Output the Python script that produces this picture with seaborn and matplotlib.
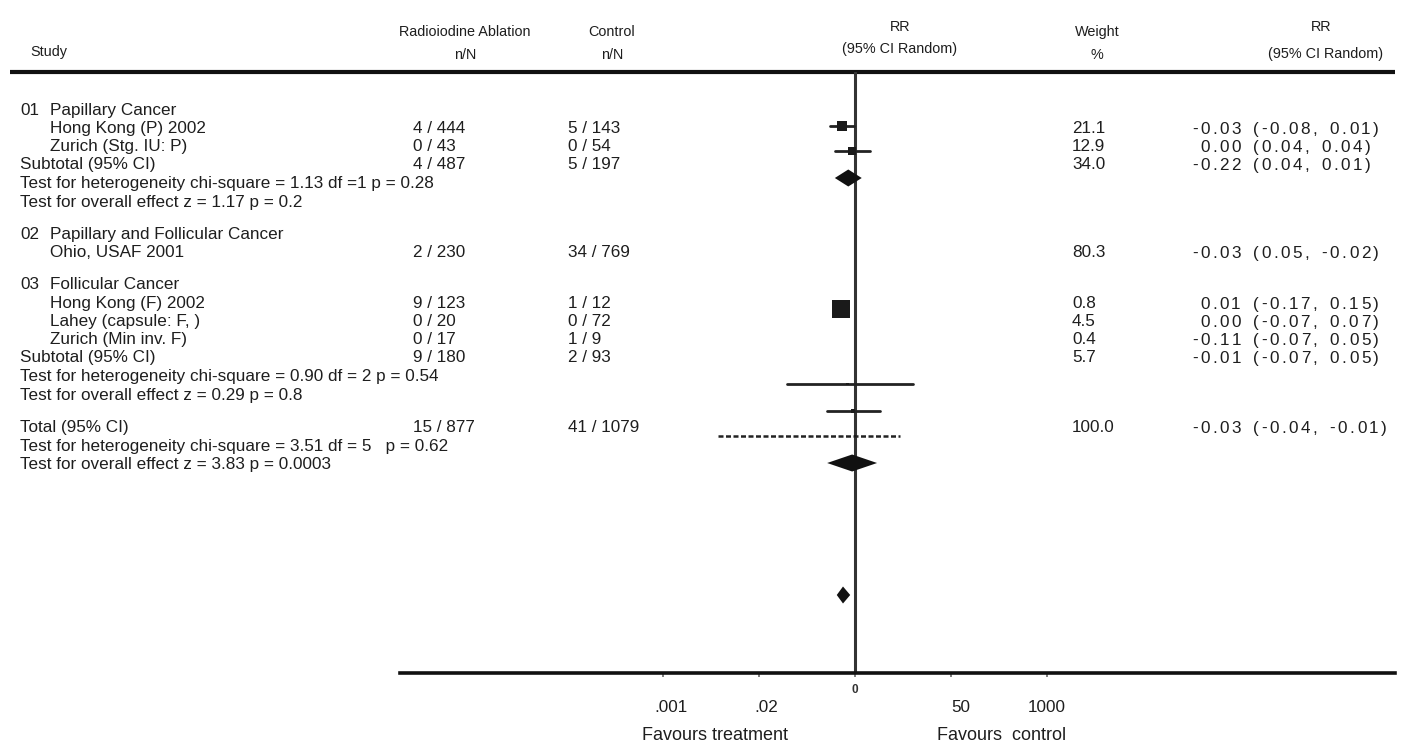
import matplotlib
matplotlib.use("Agg")
import matplotlib.pyplot as plt
import matplotlib.transforms as mtransforms
from matplotlib import font_manager
import seaborn as sns

sns.set_style("white")
plt.rcParams['font.family'] = ['Liberation Sans', 'DejaVu Sans']

# ---------------- data ----------------
header_cols = ["Study", "Radioiodine Ablation\nn/N", "Control\nn/N",
               "RR\n(95% CI Random)", "Weight\n%", "RR\n(95% CI Random)"]

group_titles = ["01   Papillary Cancer", "02   Papillary and Follicular Cancer", "03   Follicular Cancer"]

row_labels = ["Hong Kong (P) 2002", "Zurich (Stg. IU: P)", "Subtotal (95% CI)",
              "Ohio, USAF 2001",
              "Hong Kong (F) 2002", "Lahey (capsule: F, )", "Zurich (Min inv. F)", "Subtotal (95% CI)",
              "Total (95% CI)"]
treat_nN = ["4 / 444", "0 / 43", "4 / 487", "2 / 230", "9 / 123", "0 / 20", "0 / 17", "9 / 180", "15 / 877"]
control_nN = ["5 / 143", "0 / 54", "5 / 197", "34 / 769", "1 / 12", "0 / 72", "1 / 9", "2 / 93", "41 / 1079"]
weights_txt = ["21.1", "12.9", "34.0", "80.3", "0.8", "4.5", "0.4", "5.7", "100.0"]
rr_txt = ["-0.03 (-0.08, 0.01)", "0.00 (0.04, 0.04)", "-0.22 (0.04, 0.01)",
          "-0.03 (0.05, -0.02)",
          "0.01 (-0.17, 0.15)", "0.00 (-0.07, 0.07)", "-0.11 (-0.07, 0.05)", "-0.01 (-0.07, 0.05)",
          "-0.03 (-0.04, -0.01)"]
test_lines = ["Test for heterogeneity chi-square = 1.13 df =1 p = 0.28",
              "Test for overall effect z = 1.17 p = 0.2",
              "Test for heterogeneity chi-square = 0.90 df = 2 p = 0.54",
              "Test for overall effect z = 0.29 p = 0.8",
              "Test for heterogeneity chi-square = 3.51 df = 5   p = 0.62",
              "Test for overall effect z = 3.83 p = 0.0003"]

# forest plot marks (axis units: one unit per tick step)
study_est = [-0.135, -0.03, -0.146, -0.08, -0.02, 0.00]
study_lo = [-0.26, -0.21, -0.20, -0.71, -0.29, -1.43]
study_hi = [-0.01, 0.16, -0.09, 0.60, 0.26, 0.47]
study_weight = [21.1, 12.9, 80.3, 0.8, 4.5, 0.4]
pooled_est = [-0.07, -0.03, -0.125]
pooled_lo = [-0.21, -0.29, -0.19]
pooled_hi = [0.07, 0.23, -0.05]

tick_vals = [-2, -1, 0, 1, 2]
tick_labels = [".001", ".02", "0", "50", "1000"]
favours = ["Favours treatment", "Favours  control"]

# ---------------- fonts ----------------
names = {f.name for f in font_manager.fontManager.ttflist}
if "Liberation Sans Narrow" in names:
    hkw = dict(family=["Liberation Sans Narrow", "Liberation Sans"], fontsize=11.5)
else:
    hkw = dict(family=["Liberation Sans", "DejaVu Sans"], fontsize=10.4)

# ---------------- layout ----------------
W, H = 1403, 748
fig = plt.figure(figsize=(W / 100, H / 100), dpi=100)
ov = fig.add_axes([0, 0, 1, 1])
ov.set_xlim(0, W)
ov.set_ylim(H, 0)
ov.axis("off")

ink = "#1e1e1e"
fs = 12.3


def tracked(x, y, s, track_px, size, extra_space=5.0):
    """draw a string with extra letter spacing (chained annotations)"""
    prev = None
    pending = 0.0
    space_px = 0.278 * size * 100 / 72 + extra_space
    for ch in s:
        if ch == " ":
            pending += space_px
            continue
        if prev is None:
            prev = ov.text(x + pending, y, ch, fontsize=size, color=ink, ha="left", va="bottom")
        else:
            off = (track_px + pending) * 72 / 100
            prev = ov.annotate(ch, xy=(1, 0), xycoords=prev, xytext=(off, 0),
                               textcoords="offset points", fontsize=size, color=ink,
                               ha="left", va="bottom")
        pending = 0.0


# header
ov.text(30, 52, header_cols[0], color=ink, va="center", ha="left", **hkw)
hx = [None, 465, 612, 900, 1097, 1321]
for i in range(1, 6):
    top, bot = header_cols[i].split("\n")
    yt, yb = (27, 49) if "RR" in top else (32, 55)
    if i == 5:
        yb = 54
    ov.text(hx[i], yt, top, color=ink, ha="center", va="center", **hkw)
    ov.text(hx[i] + (5 if i == 5 else 0), yb, bot, color=ink, ha="center", va="center", **hkw)
ov.plot([10, 1395], [72, 72], color="#111111", lw=3, solid_capstyle="butt")

# body rows
row_y = [128, 146, 164, 252, 303, 321, 339, 357, 427]
group_y = [110, 234, 284]
test_y = [183, 202, 376, 395, 446, 464]
for t, y in zip(group_titles, group_y):
    num, name = t.split("   ")
    ov.text(20, y, num, fontsize=fs, color=ink, va="center")
    ov.text(50, y, name, fontsize=fs, color=ink, va="center")
for i, y in enumerate(row_y):
    lab = row_labels[i]
    lx = 20 if lab.startswith(("Subtotal", "Total")) else 50
    ov.text(lx, y, lab, fontsize=fs, color=ink, va="center")
    ov.text(413, y, treat_nN[i], fontsize=fs, color=ink, va="center")
    ov.text(568, y, control_nN[i], fontsize=fs, color=ink, va="center")
    ov.text(1072, y, weights_txt[i], fontsize=fs, color=ink, va="center")
    rx = 1192 if rr_txt[i].startswith("-") else 1200
    tracked(rx, y + 9, rr_txt[i], 2.5, fs)
for t, y in zip(test_lines, test_y):
    ov.text(20, y, t, fontsize=fs, color=ink, va="center")

# ---------------- forest axes ----------------
x0, x1, ytop, ybot = 400, 1395, 72, 673
unit = 96.0
zero_px = 855
ax = fig.add_axes([x0 / W, (H - ybot) / H, (x1 - x0) / W, (ybot - ytop) / H])
ax.set_xlim((x0 - zero_px) / unit, (x1 - zero_px) / unit)
ax.set_ylim(ybot, ytop)
ax.patch.set_alpha(0)
for s in ["top", "left", "right"]:
    ax.spines[s].set_visible(False)
ax.spines["bottom"].set_color("#111111")
ax.spines["bottom"].set_linewidth(2.6)
ax.set_yticks([])
ax.set_xticks(tick_vals)
ax.set_xticklabels([])
ax.tick_params(axis="x", direction="out", length=3, width=1.2, color="#666666", bottom=True)

# vertical line of no effect
ax.axvline(0, color="#333333", lw=2.2, zorder=1)

study_y = [126, 151, 309, 384, 411, 436]
pooled_y = [178, 463, 595]

# confidence intervals
ci_styles = ["-", "-", "-", "-", "-", (0, (2, 1))]
for e, lo, hi, y, ls in zip(study_est, study_lo, study_hi, study_y, ci_styles):
    ax.plot([lo, hi], [y, y], color="#222222", lw=2.0 if ls == "-" else 1.8, ls=ls, zorder=2)

sns.scatterplot(x=study_est, y=study_y, size=study_weight, sizes=(2, 170),
                size_norm=(0, 80.3), marker="s", color="#1a1a1a", edgecolor="none",
                legend=False, ax=ax, zorder=3)

dh = 8.5
for e, lo, hi, y in zip(pooled_est, pooled_lo, pooled_hi, pooled_y):
    ax.fill([lo, e, hi, e], [y, y - dh, y, y + dh], color="#111111", lw=0, zorder=3)

ax.set_xlabel("")
ax.set_ylabel("")

# tick labels and favours text
tr = mtransforms.blended_transform_factory(ax.transData, ov.transData)
label_shift = [0.08, 0.08, 0.0, 0.1, 0.0]
for v, lab, sh in zip(tick_vals, tick_labels, label_shift):
    if lab == "0":
        ax.text(v, 690, lab, transform=tr, fontsize=8.5, fontweight="bold", color="#333333",
                ha="center", va="center")
    else:
        ax.text(v + sh, 707, lab, transform=tr, fontsize=fs, color=ink, ha="center", va="center")
ov.text(715, 735, favours[0], fontsize=13, color=ink, ha="center", va="center")
ov.text(1002, 735, favours[1], fontsize=13, color=ink, ha="center", va="center")

fig.savefig("out.png", dpi=100)
